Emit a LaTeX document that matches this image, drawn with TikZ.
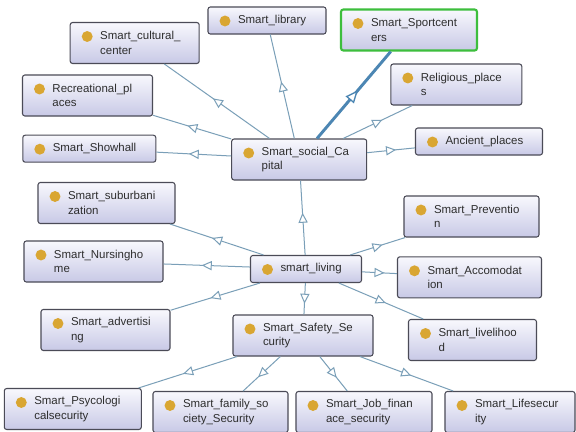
\documentclass[tikz,border=0pt]{standalone}
\usepackage{fontspec}
\setmainfont{Liberation Sans}
\usetikzlibrary{arrows.meta,decorations.markings}
\definecolor{boxline}{HTML}{4B4B57}
\definecolor{boxtop}{HTML}{F8F8FD}
\definecolor{boxbottom}{HTML}{C8C9E6}
\definecolor{dotc}{HTML}{D9A632}
\definecolor{edgec}{HTML}{7A9FB8}
\definecolor{edgebold}{HTML}{4C86B3}
\definecolor{selc}{HTML}{3DBE3D}
\definecolor{txtc}{HTML}{2E2E2E}
\newcommand{\txtgap}{\hspace*{22.5pt}}
\tikzset{
  cls/.style={draw=boxline, line width=0.8pt, rounded corners=1.8pt,
    top color=boxtop, bottom color=boxbottom, minimum height=30.75pt,
    text width=#1, inner xsep=0pt, inner ysep=0pt, align=left, text=txtc,
    font=\fontsize{8.6}{10.9}\selectfont,
    path picture={\fill[dotc] ([xshift=12.75pt,yshift=-10.5pt]path picture bounding box.north west) circle (4.1pt);}},
  single/.style={minimum height=20.25pt},
  isa/.style={draw=edgec, line width=0.75pt,
    postaction={decorate, decoration={markings, mark=at position 0.5 with {\arrow[xshift=3.75pt]{Triangle[length=7.5pt,width=6.9pt,fill=white]}}}}},
  isabold/.style={draw=edgebold, line width=2.2pt,
    postaction={decorate, decoration={markings, mark=at position 0.5 with {\arrow[xshift=4.75pt]{Triangle[length=9.5pt,width=8pt,fill=white,line width=1pt]}}}}}
}
\begin{document}
\begin{tikzpicture}[x=0.75pt,y=-0.75pt]
        \path[use as bounding box, fill=white] (0,0) rectangle (576,432);
        \node[cls=96.75pt] (cultural) at (134.7,43) {\txtgap Smart\_cultural\_\\\txtgap center};
        \node[cls=88.5pt, single] (library) at (267,20.5) {\txtgap Smart\_library};
        \node[cls=102pt, draw=selc, line width=1.6pt] (sport) at (409,30) {\txtgap Smart\_Sportcent\\\txtgap ers};
        \node[cls=97.5pt] (recreational) at (87.5,95.5) {\txtgap Recreational\_pl\\\txtgap aces};
        \node[cls=98.25pt] (religious) at (456.3,84.5) {\txtgap Religious\_place\\\txtgap s};
        \node[cls=99.75pt, single] (showhall) at (89.3,148.7) {\txtgap Smart\_Showhall};
        \node[cls=101.25pt] (social) at (299.2,159.5) {\txtgap Smart\_social\_Ca\\\txtgap pital};
        \node[cls=95.25pt, single] (ancient) at (479,141.5) {\txtgap Ancient\_places};
        \node[cls=102.75pt] (suburb) at (106.5,203) {\txtgap Smart\_suburbani\\\txtgap zation};
        \node[cls=101.25pt] (prevention) at (471.5,216.5) {\txtgap Smart\_Preventio\\\txtgap n};
        \node[cls=104.25pt] (nursing) at (93.5,261.5) {\txtgap Smart\_Nursingho\\\txtgap me};
        \node[cls=83.25pt, single] (living) at (306,269) {\txtgap smart\_living};
        \node[cls=108pt] (accomodation) at (469.5,277.3) {\txtgap Smart\_Accomodat\\\txtgap ion};
        \node[cls=96.75pt] (advertising) at (105.5,330) {\txtgap Smart\_advertisi\\\txtgap ng};
        \node[cls=105pt] (safety) at (303,335.5) {\txtgap Smart\_Safety\_Se\\\txtgap curity};
        \node[cls=96pt] (livelihood) at (472.5,340) {\txtgap Smart\_livelihoo\\\txtgap d};
        \node[cls=102.75pt] (psycho) at (72.8,409) {\txtgap Smart\_Psycologi\\\txtgap calsecurity};
        \node[cls=101.25pt] (family) at (220.5,412) {\txtgap Smart\_family\_so\\\txtgap ciety\_Security};
        \node[cls=102pt] (job) at (364,412) {\txtgap Smart\_Job\_finan\\\txtgap ace\_security};
        \node[cls=97.5pt] (life) at (510,412) {\txtgap Smart\_Lifesecur\\\txtgap ity};
        \draw[isa] (social) -- (cultural);
        \draw[isa] (social) -- (library);
        \draw[isabold] (social) -- (sport);
        \draw[isa] (social) -- (recreational);
        \draw[isa] (social) -- (religious);
        \draw[isa] (social) -- (showhall);
        \draw[isa] (social) -- (ancient);
        \draw[isa] (living) -- (social);
        \draw[isa] (living) -- (suburb);
        \draw[isa] (living) -- (nursing);
        \draw[isa] (living) -- (advertising);
        \draw[isa] (living) -- (prevention);
        \draw[isa] (living) -- (accomodation);
        \draw[isa] (living) -- (livelihood);
        \draw[isa] (living) -- (safety);
        \draw[isa] (safety) -- (psycho);
        \draw[isa] (safety) -- (family);
        \draw[isa] (safety) -- (job);
        \draw[isa] (safety) -- (life);
    \end{tikzpicture}
\end{document}
